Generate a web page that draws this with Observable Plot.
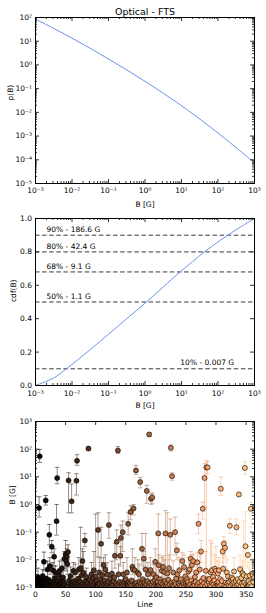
<!DOCTYPE html>
<html><head><meta charset="utf-8">
<script src="https://cdn.jsdelivr.net/npm/d3@7"></script>
<script src="https://cdn.jsdelivr.net/npm/@observablehq/plot@0.6"></script>
<style>
html,body{margin:0;padding:0;background:#fff}
#c{width:266px;height:613px;overflow:hidden}
svg{display:block}
</style></head><body><div id="c"></div>
<script>
const chartTitle = "Optical - FTS";
// Panel 1: p(B)
const pB = [0.001, 0.00316, 0.01, 0.0316, 0.1, 0.316, 1, 3.16, 10, 31.6, 100, 316, 1000];
const pVal = [85, 34.7, 13.5, 5.0, 1.78, 0.617, 0.204, 0.0646, 0.0191, 0.00525, 0.00135, 0.000324, 0.0000741];
// Panel 2: cdf(B)
const cdfB = [0.001, 0.00316, 0.007, 0.0316, 0.1, 0.316, 1.1, 3.16, 9.1, 20, 42.4, 100, 186.6, 417, 1000];
const cdfV = [0, 0.045, 0.1, 0.215, 0.307, 0.4, 0.5, 0.59, 0.68, 0.742, 0.8, 0.86, 0.9, 0.95, 1.0];
const levels = [0.1, 0.5, 0.68, 0.8, 0.9];
const levelB = [0.007, 1.1, 9.1, 42.4, 186.6];
// Tick values
const bTicks = [1e-3, 1e-2, 1e-1, 1, 1e1, 1e2, 1e3];
const pTicks = [1e-5, 1e-4, 1e-3, 1e-2, 1e-1, 1, 1e1, 1e2];
const cdfTicks = [0, 0.2, 0.4, 0.6, 0.8, 1.0];
const lineTicks = [0, 50, 100, 150, 200, 250, 300, 350];
const fieldTicks = [1e-3, 1e-2, 1e-1, 1, 1e1, 1e2, 1e3];
// Panel 3: B per line (index = line number)
const lineB = [
0.0014,0.0018,0.0011,0.0016,0.0024,0.0013,0.75,55,0.0012,0.0019,
0.0015,0.0011,0.0026,0.0013,0.0085,0.0017,0.0012,1.4,0.0021,0.0011,
0.0045,0.0014,0.0019,0.08,0.006,0.0012,0.0016,0.03,0.0011,0.0042,
0.0015,0.013,0.0022,0.0035,0.0013,0.25,9.0,0.0017,0.0011,0.0028,
0.004,0.0012,0.0019,0.0014,0.005,0.0011,0.0023,0.0016,0.011,0.0013,
0.016,0.009,0.013,0.007,0.019,7.4,0.0018,0.0012,0.0026,0.0011,
1.3,0.0015,0.0012,0.004,0.0017,0.0011,0.0035,0.0014,7.2,38,
0.0013,0.0021,0.0045,0.0011,0.0016,0.005,0.0012,0.0028,0.009,0.0014,
0.0034,0.0011,0.05,0.0017,0.0013,0.0024,0.0012,0.0015,105,0.0011,
0.0019,0.0013,0.0011,0.003,0.0016,0.0012,0.0022,0.0042,0.0011,0.0014,
0.0025,0.0012,0.0017,0.0011,0.12,0.0014,0.0035,0.0013,0.002,0.038,
0.0011,0.0028,0.0015,0.0065,0.0012,0.0018,0.0045,0.0011,0.0014,0.003,
0.0012,0.0016,0.18,0.0011,0.0021,0.0013,0.0011,0.0032,0.0015,0.0012,
0.0017,0.0023,0.014,0.0011,0.0014,0.045,0.0012,90,0.003,0.0011,
0.0016,0.014,0.062,0.0013,0.0011,0.1,0.003,0.0015,0.0012,0.0019,
0.002,0.0011,0.0035,0.0013,0.2,0.0016,0.0011,0.0014,0.54,0.0012,
0.0018,0.0056,0.0045,0.72,0.0011,0.0042,0.0013,17,0.0015,0.0011,
0.0034,0.0012,0.003,0.0016,6.5,0.0011,0.0014,0.025,0.002,0.0012,
0.011,0.0015,0.0011,0.0045,0.0013,3.1,0.0017,0.003,0.0011,340,
0.0014,0.0043,1.6,0.0012,1.8,0.0016,0.003,0.0011,0.0019,0.0085,
0.0013,0.0023,0.0011,0.0016,0.09,0.0064,0.0012,0.002,0.0015,0.0011,
0.004,0.0013,0.0055,0.0011,0.0036,0.0017,0.09,0.0012,0.0014,0.0032,
0.0011,0.0019,0.005,0.0013,0.08,112,0.0015,10.5,0.0012,0.0035,
0.0011,0.0016,0.1,0.0013,0.0021,0.022,0.003,0.0011,0.0014,0.0042,
0.0012,0.0017,0.002,0.0011,0.009,0.0015,0.0013,0.0055,0.0011,0.0025,
0.0014,0.0012,0.002,0.0016,0.0038,0.0011,0.0045,0.0013,0.011,0.0018,
0.0065,0.0011,0.009,0.0014,0.0012,0.0024,0.0016,0.0035,0.0011,0.008,
0.0013,0.2,0.0015,0.0045,0.0011,0.02,0.0017,0.0012,0.7,0.0022,
0.0014,9.1,0.0011,0.004,22,0.0013,22,0.002,0.0016,0.002,
0.0012,0.0035,0.0011,0.0042,0.0015,0.0024,0.0013,0.0018,0.0048,0.0011,
0.004,0.0014,0.0012,0.0032,0.0016,0.0042,0.0011,0.002,3.7,0.0013,
0.0017,0.02,0.0048,0.038,0.0012,0.027,0.0015,0.0011,0.0035,0.0014,
0.0025,0.0012,0.0016,0.17,0.0011,0.0019,0.0023,0.0013,0.002,0.0015,
0.0038,0.0011,0.0014,0.0017,0.15,0.0012,0.002,0.0013,2.3,0.0016,
0.0046,0.0011,0.0022,0.0014,0.0033,0.0012,0.0028,0.0015,21,0.031,
0.0013,0.0025,0.0011,0.015,0.0017,0.0012,0.0027,0.0014,0.7,0.0011,
0.0032,0.0028,0.0016,0.0022
];
// Error bars: line, lower bound, upper bound (G)
const barLine = [6,7,14,17,23,27,31,35,36,48,50,51,52,53,54,55,60,68,69,78,82,88,104,109,113,122,132,135,137,141,142,145,154,158,161,163,167,174,177,180,185,189,192,194,199,204,216,224,225,227,232,235,244,258,262,271,275,278,281,284,286,308,311,313,315,323,334,338,348,349,353,358,
4,12,20,24,29,33,40,44,46,58,63,66,72,75,77,80,85,93,97,100,106,111,116,119,127,138,146,152,165,170,172,183,187,191,196,201,205,210,212,214,219,222,229,239,247,254,256,260,267,269,273,283,291,293,298,300,303,305,312,318,330,340,344,346,356,360];
const barLo = [0.35,33,0.004,0.95,0.035,0.018,0.006,0.078,5.6,0.005,0.007,0.004,0.006,0.003,0.01,0.5,0.5,2.2,26,0.004,0.03,90,0.013,0.008,0.003,0.06,0.005,0.01,70,0.006,0.012,0.02,0.08,0.28,0.003,0.42,12,4,0.006,0.005,1.1,290,1.0,1.1,0.003,0.001,0.002,0.01,85,7.5,0.015,0.01,0.004,0.005,0.004,0.09,0.008,0.3,0.9,0.002,13,2.1,0.008,0.015,0.012,0.09,0.08,1.9,12,0.006,0.005,0.15,
0.0008,0.0009,0.002,0.003,0.0015,0.0012,0.0015,0.002,0.0008,0.0008,0.0015,0.0012,0.0015,0.002,0.0009,0.0012,0.0008,0.0009,0.0015,0.0008,0.001,0.0009,0.0015,0.0009,0.001,0.001,0.001,0.0012,0.0015,0.0012,0.0009,0.0015,0.0009,0.0015,0.0009,0.0008,0.002,0.0015,0.002,0.0012,0.001,0.0018,0.0012,0.0015,0.002,0.0012,0.0015,0.0025,0.001,0.003,0.0015,0.0015,0.001,0.0015,0.0015,0.0012,0.001,0.0015,0.0015,0.001,0.0012,0.0015,0.001,0.0009,0.0008,0.001];
const barHi = [1.9,98,0.019,2.1,0.19,0.05,0.025,1.0,22,0.02,0.05,0.018,0.025,0.012,0.035,14,5.5,13,63,0.025,0.09,120,0.5,0.15,0.012,0.5,0.04,0.12,125,0.03,0.18,0.25,0.5,0.9,0.025,1.0,26,9.5,0.09,0.02,4.9,400,2.4,2.6,0.025,0.45,0.6,0.3,140,14,0.35,0.04,0.018,0.02,0.016,0.45,0.05,1.2,30,38,35,9.8,0.035,0.07,0.05,0.3,0.3,2.8,35,0.54,0.03,1.2,
0.005,0.0045,0.009,0.012,0.008,0.006,0.009,0.01,0.004,0.0055,0.008,0.007,0.012,0.15,0.006,0.02,0.005,0.008,0.02,0.45,0.012,0.006,0.015,0.008,0.009,0.007,0.008,0.012,0.012,0.01,0.007,0.09,0.008,0.012,0.007,0.006,0.015,0.012,0.014,0.01,0.5,0.015,0.009,0.012,0.015,0.012,0.012,0.015,0.01,0.018,0.015,0.02,0.05,0.04,0.015,0.03,0.009,0.012,0.04,0.01,0.012,0.015,0.009,0.25,0.008,0.012];

const W = 266, ML = 35, MR = 12;
const FONT = "DejaVu Sans";
const FS = 7.5;
const supMap = {"-":"\u207B","0":"\u2070","1":"\u00B9","2":"\u00B2","3":"\u00B3","4":"\u2074","5":"\u2075","6":"\u2076","7":"\u2077","8":"\u2078","9":"\u2079"};
const pow10 = v => "10" + String(Math.round(Math.log10(v))).split("").map(c => supMap[c]).join("");
const minorLog = (lo, hi) => { const out = []; for (let e = lo; e < hi; e++) for (let m = 2; m <= 9; m++) out.push(m * Math.pow(10, e)); return out; };
const copper = t => `rgb(${Math.round(255 * Math.min(1, 1.25 * t))},${Math.round(255 * 0.7812 * t)},${Math.round(255 * 0.4975 * t)})`;
const capSymbol = { draw(ctx, size) { const w = Math.sqrt(size / Math.PI); ctx.moveTo(-w, 0); ctx.lineTo(w, 0); } };

function frameTicks(fh, fw, xMajor, xMinor, yMajor, yMinor) {
  const s = {stroke: "#000", strokeWidth: 0.8};
  return [
    Plot.tickX(xMajor, {x: d => d, insetTop: fh - 4, ...s}),
    Plot.tickX(xMajor, {x: d => d, insetBottom: fh - 4, ...s}),
    Plot.tickX(xMinor, {x: d => d, insetTop: fh - 2, ...s}),
    Plot.tickX(xMinor, {x: d => d, insetBottom: fh - 2, ...s}),
    Plot.tickY(yMajor, {y: d => d, insetRight: fw - 4, ...s}),
    Plot.tickY(yMajor, {y: d => d, insetLeft: fw - 4, ...s}),
    Plot.tickY(yMinor, {y: d => d, insetRight: fw - 2, ...s}),
    Plot.tickY(yMinor, {y: d => d, insetLeft: fw - 2, ...s})
  ];
}

const root = document.getElementById("c");
const fw = W - ML - MR;
const baseStyle = {fontFamily: FONT, fontSize: FS + "px", background: "#fff", color: "#000"};

// ---------- Panel 1 ----------
{
  const H = 212, MT = 17, MB = 29, fh = H - MT - MB;
  const data = pB.map((b, i) => ({b, p: pVal[i]}));
  root.append(Plot.plot({
    width: W, height: H, marginLeft: ML, marginRight: MR, marginTop: MT, marginBottom: MB,
    style: baseStyle,
    x: {type: "log", domain: [1e-3, 1e3], axis: null},
    y: {type: "log", domain: [1e-5, 1e2], axis: null},
    marks: [
      Plot.line(data, {x: "b", y: "p", stroke: "#6d93ec", strokeWidth: 1, curve: "catmull-rom"}),
      ...frameTicks(fh, fw, bTicks, minorLog(-3, 3), pTicks, minorLog(-5, 2)),
      Plot.frame({stroke: "#000", strokeWidth: 1}),
      Plot.axisX(bTicks, {tickSize: 0, tickPadding: 4.5, tickFormat: pow10, label: null}),
      Plot.axisY(pTicks, {tickSize: 0, tickPadding: 3.5, tickFormat: pow10, label: null}),
      Plot.text([chartTitle], {frameAnchor: "top", dy: -2.5, lineAnchor: "bottom", fontSize: 9.5}),
      Plot.text(["B [G]"], {frameAnchor: "bottom", dy: 21.5, lineAnchor: "middle", fontSize: FS}),
      Plot.text(["p(B)"], {frameAnchor: "left", dx: -25, rotate: -90, lineAnchor: "middle", fontSize: FS})
    ]
  }));
}

// ---------- Panel 2 ----------
{
  const H = 200, MT = 6, MB = 27, fh = H - MT - MB;
  const data = cdfB.map((b, i) => ({b, v: cdfV[i]}));
  const lv = levels.map((l, i) => ({l, b: levelB[i]}));
  root.append(Plot.plot({
    width: W, height: H, marginLeft: ML, marginRight: MR, marginTop: MT, marginBottom: MB,
    style: baseStyle,
    x: {type: "log", domain: [1e-3, 1e3], axis: null},
    y: {domain: [0, 1], axis: null},
    marks: [
      Plot.ruleY(lv, {y: "l", stroke: "#3a3a3a", strokeWidth: 1, strokeDasharray: "4.5,2.6"}),
      Plot.line(data, {x: "b", y: "v", stroke: "#6d93ec", strokeWidth: 1, curve: "catmull-rom"}),
      Plot.text(lv, {x: d => d.l < 0.3 ? 9.3 : 0.002, y: d => d.l + 0.02, text: d => `${Math.round(d.l * 100)}% - ${d.b} G`, textAnchor: "start", lineAnchor: "bottom", fontSize: FS}),
      ...frameTicks(fh, fw, bTicks, minorLog(-3, 3), cdfTicks, []),
      Plot.frame({stroke: "#000", strokeWidth: 1}),
      Plot.axisX(bTicks, {tickSize: 0, tickPadding: 5, tickFormat: pow10, label: null}),
      Plot.axisY(cdfTicks, {tickSize: 0, tickPadding: 3.5, tickFormat: d3.format(".1f"), label: null}),
      Plot.text(["B [G]"], {frameAnchor: "bottom", dy: 19.8, lineAnchor: "middle", fontSize: FS}),
      Plot.text(["cdf(B)"], {frameAnchor: "left", dx: -22, rotate: -90, lineAnchor: "middle", fontSize: FS})
    ]
  }));
}

// ---------- Panel 3 ----------
{
  const H = 201, MT = 9, MB = 26, fh = H - MT - MB;
  const pts = lineB.map((b, i) => ({line: i, b}));
  const bars = barLine.map((l, i) => ({line: l, lo: barLo[i], hi: barHi[i]}));
  root.append(Plot.plot({
    width: W, height: H, marginLeft: ML, marginRight: MR, marginTop: MT, marginBottom: MB,
    style: baseStyle,
    x: {domain: [0, 364], axis: null},
    y: {type: "log", domain: [1e-3, 1e3], axis: null},
    color: {type: "linear", domain: [0, 363], interpolate: copper},
    marks: [
      Plot.ruleX(bars, {x: "line", y1: "lo", y2: "hi", stroke: "line", strokeOpacity: 0.5, strokeWidth: 1, clip: true}),
      Plot.dot(bars, {x: "line", y: "lo", symbol: capSymbol, r: 2.3, stroke: "line", fill: "none", strokeOpacity: 0.5, strokeWidth: 1, clip: true}),
      Plot.dot(bars, {x: "line", y: "hi", symbol: capSymbol, r: 2.3, stroke: "line", fill: "none", strokeOpacity: 0.5, strokeWidth: 1, clip: true}),
      Plot.dot(pts, {x: "line", y: "b", r: 2.5, fill: "line", stroke: "#000", strokeWidth: 0.6, clip: true}),
      ...frameTicks(fh, fw, lineTicks, [], fieldTicks, minorLog(-3, 3)),
      Plot.frame({stroke: "#000", strokeWidth: 1}),
      Plot.axisX(lineTicks, {tickSize: 0, tickPadding: 4, label: null}),
      Plot.axisY(fieldTicks, {tickSize: 0, tickPadding: 3.5, tickFormat: pow10, label: null}),
      Plot.text(["Line"], {frameAnchor: "bottom", dy: 17, lineAnchor: "middle", fontSize: FS}),
      Plot.text(["B [G]"], {frameAnchor: "left", dx: -23, rotate: -90, lineAnchor: "middle", fontSize: FS})
    ]
  }));
}
</script>
</body></html>
